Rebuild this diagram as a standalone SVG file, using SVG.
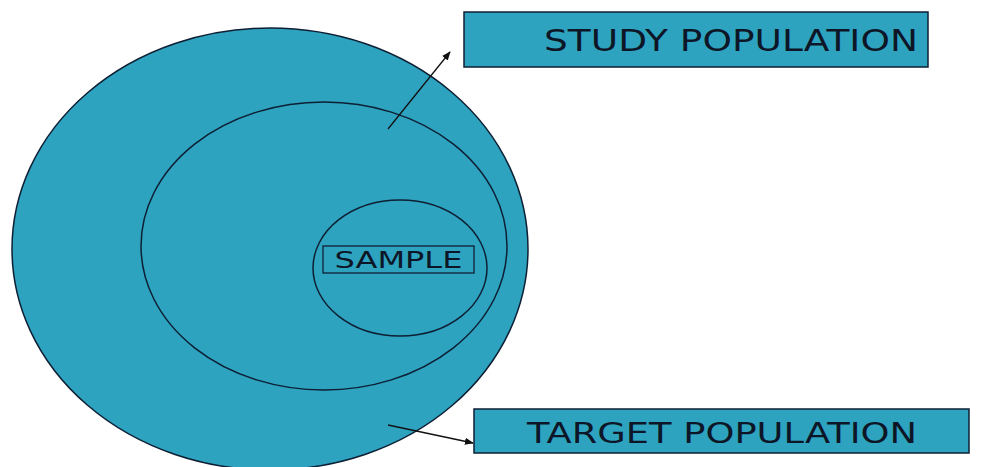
<svg xmlns="http://www.w3.org/2000/svg" width="994" height="467" viewBox="0 0 994 467">
<defs>
<style>
.shape{fill:#2ea3c0;stroke:#0d1f33;stroke-width:1.5}
.lbl{font-family:"DejaVu Sans","Liberation Sans",sans-serif;fill:#0d1626}
.conn{stroke:#111;stroke-width:1.3;fill:none}
</style>
<marker id="ah" viewBox="0 0 10 10" refX="9" refY="5" markerWidth="9" markerHeight="9" orient="auto" markerUnits="userSpaceOnUse">
<path d="M0,1 L10,5 L0,9 z" fill="#111"/>
</marker>
</defs>
<rect width="994" height="467" fill="#fff"/>
<g id="target">
<ellipse class="shape" cx="270" cy="249" rx="258" ry="221"/>
</g>
<g id="study">
<ellipse class="shape" cx="324" cy="246" rx="183" ry="144"/>
</g>
<g id="sample">
<ellipse class="shape" cx="400" cy="268" rx="87" ry="68"/>
<rect x="323" y="246" width="151" height="27" fill="none" stroke="#0d1f33" stroke-width="1.3"/>
<text class="lbl" x="398.5" y="268" text-anchor="middle" font-size="23" textLength="128" lengthAdjust="spacingAndGlyphs">SAMPLE</text>
</g>
<g id="study-label">
<rect class="shape" x="464" y="12" width="464" height="55"/>
<text class="lbl" x="731" y="51" text-anchor="middle" font-size="30" textLength="374" lengthAdjust="spacingAndGlyphs">STUDY POPULATION</text>
</g>
<g id="target-label">
<rect class="shape" x="474" y="409" width="495" height="44"/>
<text class="lbl" x="722" y="443" text-anchor="middle" font-size="29" textLength="390" lengthAdjust="spacingAndGlyphs">TARGET POPULATION</text>
</g>
<g id="connectors">
<line class="conn" x1="388" y1="129" x2="450" y2="52" marker-end="url(#ah)"/>
<line class="conn" x1="388" y1="425" x2="473" y2="443" marker-end="url(#ah)"/>
</g>
</svg>
